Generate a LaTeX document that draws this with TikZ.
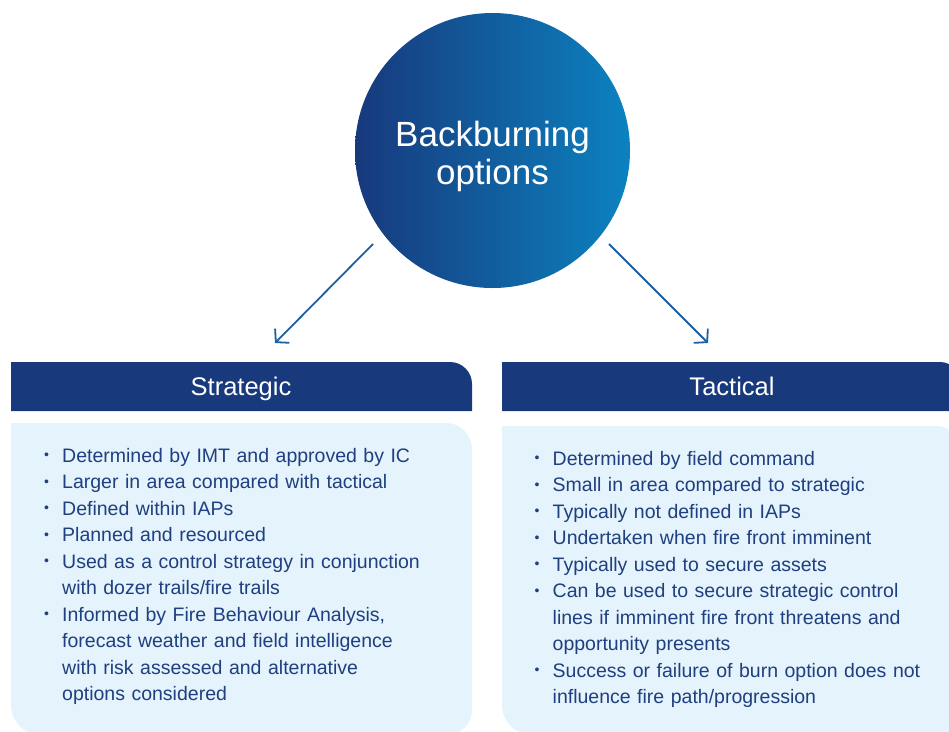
\documentclass[tikz,border=0pt]{standalone}
\usepackage{fontspec}
\setmainfont{Liberation Sans}
\usetikzlibrary{arrows.meta}
\definecolor{hdr}{HTML}{183A7C}
\definecolor{txt}{HTML}{1F3F80}
\definecolor{panel}{HTML}{E4F3FC}
\definecolor{circL}{HTML}{17397C}
\definecolor{circR}{HTML}{0C82C0}
\definecolor{arr}{HTML}{1D5FA3}
\newcommand{\bitem}[1]{\noindent\hangindent=18pt\hangafter=1\makebox[18pt][l]{\raisebox{2.2pt}{\fontsize{14}{14}\selectfont\textbullet}}#1\par}
\tikzset{
  hdrtext/.style={text=white, font=\fontsize{25.5}{30}\selectfont, anchor=base, inner sep=0pt},
  bullets/.style={text=txt, font=\fontsize{19.5}{26.5}\selectfont, anchor=base west, inner sep=0pt, text width=420pt, align=left},
  conn/.style={draw=arr, line width=1.8pt, -{Straight Barb[length=9pt,width=20pt,line width=1.8pt]}}
}
\begin{document}
\begin{tikzpicture}[x=1pt,y=-1pt]
\useasboundingbox (0,0) rectangle (949,731);
\clip (0,0) rectangle (949,731);
% central circle
\node[circle, minimum size=275pt, inner sep=0pt, left color=circL, right color=circR, draw=none] (main) at (492.5,150.5) {};
\node[text=white, font=\fontsize{35}{38}\selectfont, text width=300pt, align=center, anchor=base, inner sep=0pt] (title) at (492.5,146) {Backburning\\options};
% arrows
\coordinate (l1) at (373,244);
\coordinate (l2) at (275,343);
\coordinate (r1) at (609,244);
\coordinate (r2) at (708,343);
\draw[conn] (l1) -- (l2);
\draw[conn] (r1) -- (r2);
% headers
\fill[hdr] (11,362) -- (450,362) arc[start angle=-90, end angle=0, radius=22] -- (472,411) -- (11,411) -- cycle;
\fill[hdr] (502,362) -- (940,362) arc[start angle=-90, end angle=0, radius=20] -- (960,411) -- (502,411) -- cycle;
\node[hdrtext] (hs) at (241,395) {Strategic};
\node[hdrtext] (ht) at (732,395) {Tactical};
% panels
\fill[panel] (11,423) -- (446,423) arc[start angle=-90, end angle=0, radius=26] -- (472,710) arc[start angle=0, end angle=90, radius=25] -- (41,735) arc[start angle=90, end angle=180, radius=30] -- cycle;
\fill[panel] (502,426) -- (936,426) arc[start angle=-90, end angle=0, radius=26] -- (962,735) -- (532,735) arc[start angle=90, end angle=180, radius=30] -- cycle;
% bullet texts
\node[bullets] (ls) at (44,462) {%
\bitem{Determined by IMT and approved by IC}
\bitem{Larger in area compared with tactical}
\bitem{Defined within IAPs}
\bitem{Planned and resourced}
\bitem{Used as a control strategy in conjunction\newline with dozer trails/fire trails}
\bitem{Informed by Fire Behaviour Analysis,\newline forecast weather and field intelligence\newline with risk assessed and alternative\newline options considered}};
\node[bullets] (rs) at (534.5,465) {%
\bitem{Determined by field command}
\bitem{Small in area compared to strategic}
\bitem{Typically not defined in IAPs}
\bitem{Undertaken when fire front imminent}
\bitem{Typically used to secure assets}
\bitem{Can be used to secure strategic control\newline lines if imminent fire front threatens and\newline opportunity presents}
\bitem{Success or failure of burn option does not\newline influence fire path/progression}};
\end{tikzpicture}
\end{document}
